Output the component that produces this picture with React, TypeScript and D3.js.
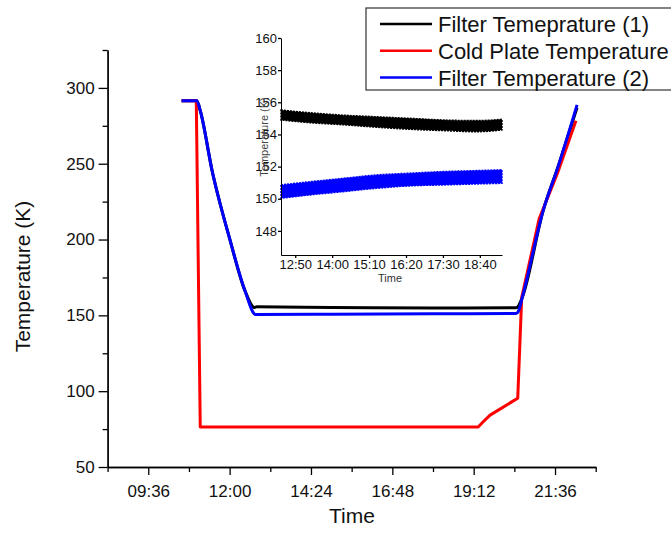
import React, { useEffect, useRef } from 'react';
import * as d3 from 'd3';

// main chart, times as HH:MM, temperatures in K
const BLACK_T = ['10:35', '11:02', '11:08', '11:29', '12:01', '12:27', '12:44', '12:48', '15:00', '18:00', '20:27', '20:31', '20:38', '21:15', '21:42', '22:15'];
const BLACK_V = [291.5, 291.5, 285, 245.4, 199.3, 166.4, 155.2, 155.6, 155.2, 154.8, 155, 156, 161.8, 219.1, 248.7, 287];

const RED_T = ['10:35', '11:01', '11:08', '19:20', '19:28', '19:41', '20:30', '20:37', '21:08', '21:40', '22:13'];
const RED_V = [291.5, 291.5, 76.4, 76.4, 79.5, 84.2, 95.4, 161.8, 213.8, 243.4, 278.3];

const BLUE_T = ['10:35', '11:02', '11:08', '11:29', '12:01', '12:27', '12:46', '15:00', '18:00', '20:27', '20:31', '20:38', '21:15', '21:42', '22:15'];
const BLUE_V = [291.5, 291.5, 285, 245.4, 199.3, 166.4, 150.6, 150.8, 151, 151.2, 152.6, 161.8, 219.1, 248.7, 288.8];

const X_TICKS = ['09:36', '12:00', '14:24', '16:48', '19:12', '21:36'];
const X_MINOR = ['08:24', '10:48', '13:12', '15:36', '18:00', '20:24', '22:48'];
const Y_TICKS = [50, 100, 150, 200, 250, 300];
const Y_MINOR = [75, 125, 175, 225, 275, 325];

// inset: noisy bands, read as upper / lower edge
const INSET_T = ['12:23', '13:18', '14:21', '15:24', '16:27', '17:30', '18:34', '19:22'];
const F1_HI = [155.52, 155.35, 155.2, 155.1, 155.0, 154.9, 154.86, 154.94];
const F1_LO = [154.9, 154.73, 154.6, 154.45, 154.32, 154.24, 154.17, 154.28];
const F2_HI = [150.86, 151.06, 151.27, 151.48, 151.59, 151.69, 151.75, 151.8];
const F2_LO = [150.03, 150.24, 150.44, 150.65, 150.8, 150.86, 150.92, 150.96];
const INSET_X_TICKS = ['12:50', '14:00', '15:10', '16:20', '17:30', '18:40'];
const INSET_Y_TICKS = [148, 150, 152, 154, 156, 158, 160];

const LEGEND = ['Filter Temeprature (1)', 'Cold Plate Temperature', 'Filter Temperature (2)'];
const COLORS = ['#000000', '#ff0000', '#0000ff'];

const FONT = "'Liberation Sans', Arial, sans-serif";

const mins = (s: string) => {
  const [h, m] = s.split(':').map(Number);
  return h * 60 + m;
};
const hhmm = (v: number) => {
  const h = Math.floor(v / 60);
  const m = Math.round(v - h * 60);
  return `${String(h).padStart(2, '0')}:${String(m).padStart(2, '0')}`;
};

export default function App() {
  const ref = useRef<SVGSVGElement | null>(null);

  useEffect(() => {
    const svg = d3.select(ref.current);
    svg.selectAll('*').remove();

    // ---- main plot
    const x = d3.scaleLinear().domain([mins('08:24'), mins('22:48')]).range([107.6, 595.7]);
    const y = d3.scaleLinear().domain([50, 325]).range([467, 50]);

    const styleAxis = (g: any) => {
      g.select('.domain').attr('stroke', '#000').attr('stroke-width', 1.3);
      g.selectAll('.tick line').attr('stroke', '#000').attr('stroke-width', 1.3);
      g.selectAll('text').attr('fill', '#111').attr('font-family', FONT);
    };

    const gxMinor = svg.append('g').attr('transform', `translate(0,${y(50)})`);
    gxMinor.call(d3.axisBottom(x).tickValues(X_MINOR.map(mins)).tickSize(5).tickSizeOuter(0).tickFormat(() => ''));
    styleAxis(gxMinor);
    const gx = svg.append('g').attr('transform', `translate(0,${y(50)})`);
    gx.call(d3.axisBottom(x).tickValues(X_TICKS.map(mins)).tickSize(8).tickSizeOuter(0).tickPadding(10).tickFormat((d: any) => hhmm(d)));
    styleAxis(gx);
    gx.selectAll('text').attr('font-size', '17px');

    const gyMinor = svg.append('g').attr('transform', `translate(${x.range()[0]},0)`);
    gyMinor.call(d3.axisLeft(y).tickValues(Y_MINOR).tickSize(5).tickSizeOuter(0).tickFormat(() => ''));
    styleAxis(gyMinor);
    const gy = svg.append('g').attr('transform', `translate(${x.range()[0]},0)`);
    gy.call(d3.axisLeft(y).tickValues(Y_TICKS).tickSize(9).tickSizeOuter(0).tickPadding(4));
    styleAxis(gy);
    gy.selectAll('text').attr('font-size', '17px');

    svg.append('text')
      .attr('transform', `translate(30,${(y(50) + y(325)) / 2 + 18}) rotate(-90)`)
      .attr('text-anchor', 'middle')
      .attr('font-family', FONT)
      .attr('font-size', '21px')
      .attr('fill', '#111')
      .text('Temperature (K)');

    svg.append('text')
      .attr('x', 352)
      .attr('y', 523)
      .attr('text-anchor', 'middle')
      .attr('font-family', FONT)
      .attr('font-size', '21px')
      .attr('fill', '#111')
      .text('Time');

    const smooth = d3.line<[number, number]>()
      .x((d) => x(d[0]))
      .y((d) => y(d[1]))
      .curve(d3.curveMonotoneX);
    const straight = d3.line<[number, number]>()
      .x((d) => x(d[0]))
      .y((d) => y(d[1]));

    const series: [string[], number[], any][] = [[BLACK_T, BLACK_V, smooth], [RED_T, RED_V, straight], [BLUE_T, BLUE_V, smooth]];
    series.forEach(([ts, vs, gen], i) => {
      svg.append('path')
        .attr('d', gen(ts.map((t, j) => [mins(t), vs[j]])))
        .attr('fill', 'none')
        .attr('stroke', COLORS[i])
        .attr('stroke-width', 3)
        .attr('stroke-linejoin', 'round');
    });

    // ---- inset
    const ix = d3.scaleLinear().domain([mins('12:23'), mins('19:22')]).range([281, 502]);
    const iy = d3.scaleLinear().domain([146.5, 160]).range([255, 38]);

    const bands: [number[], number[], string][] = [[F1_HI, F1_LO, COLORS[0]], [F2_HI, F2_LO, COLORS[2]]];
    bands.forEach(([hi, lo, c]) => {
      const area = d3.area<number>()
        .x((_, j) => ix(mins(INSET_T[j])))
        .y0((_, j) => iy(lo[j]))
        .y1((_, j) => iy(hi[j]))
        .curve(d3.curveMonotoneX);
      svg.append('path')
        .attr('d', area(hi))
        .attr('fill', c)
        .attr('stroke', c)
        .attr('stroke-width', 1.5)
        .attr('stroke-dasharray', '2 1');
    });

    const gix = svg.append('g').attr('transform', `translate(0,${iy(146.5)})`);
    gix.call(d3.axisBottom(ix).tickValues(INSET_X_TICKS.map(mins)).tickSize(3).tickSizeOuter(0).tickPadding(2).tickFormat((d: any) => hhmm(d)));
    styleAxis(gix);
    gix.select('.domain').attr('stroke-width', 1);
    gix.selectAll('text').attr('font-size', '13px');

    const giy = svg.append('g').attr('transform', `translate(${ix.range()[0]},0)`);
    giy.call(d3.axisLeft(iy).tickValues(INSET_Y_TICKS).tickSize(3).tickSizeOuter(0).tickPadding(1));
    styleAxis(giy);
    giy.select('.domain').attr('stroke-width', 1);
    giy.selectAll('text').attr('font-size', '13px');

    svg.append('text')
      .attr('transform', `translate(268,137) rotate(-90)`)
      .attr('text-anchor', 'middle')
      .attr('font-family', FONT)
      .attr('font-size', '11px')
      .attr('fill', '#444')
      .text('Temperature (K)');

    svg.append('text')
      .attr('x', 390)
      .attr('y', 282)
      .attr('text-anchor', 'middle')
      .attr('font-family', FONT)
      .attr('font-size', '11px')
      .attr('fill', '#333')
      .text('Time');

    // ---- legend
    const lg = svg.append('g');
    lg.append('rect')
      .attr('x', 366)
      .attr('y', 8)
      .attr('width', 330)
      .attr('height', 82)
      .attr('fill', '#fff')
      .attr('stroke', '#333')
      .attr('stroke-width', 1.2);
    LEGEND.forEach((name, i) => {
      const ly = 24 + i * 26.8;
      lg.append('line')
        .attr('x1', 380)
        .attr('x2', 432)
        .attr('y1', ly)
        .attr('y2', ly)
        .attr('stroke', COLORS[i])
        .attr('stroke-width', 2.5);
      lg.append('text')
        .attr('x', 438)
        .attr('y', ly)
        .attr('dy', '0.36em')
        .attr('font-family', FONT)
        .attr('font-size', '22px')
        .attr('fill', '#111')
        .text(name);
    });
  }, []);

  return (
    <svg
      ref={ref}
      width={671}
      height={533}
      style={{ position: 'absolute', left: 0, top: 0, background: '#fff' }}
    />
  );
}
